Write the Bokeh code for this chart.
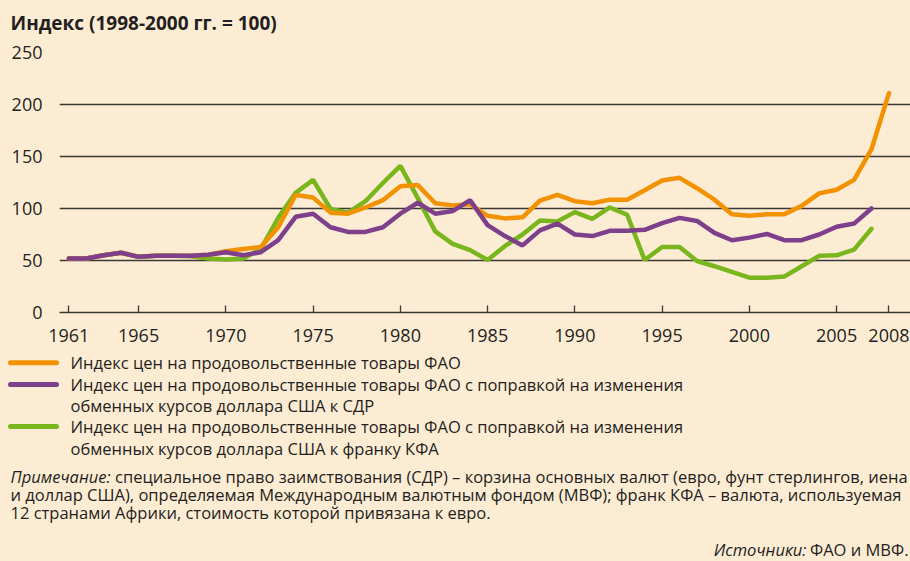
from bokeh.plotting import figure
from bokeh.models import Range1d, FixedTicker
from bokeh.embed import file_html
from bokeh.resources import INLINE
from bokeh.core.properties import value

# ---------------- data ----------------
years = list(range(1961, 2009))
fao_index = [52, 52, 55, 57.5, 53.5, 54.5, 54.5, 54.5, 55.5, 59,
             61, 63, 82, 113, 110.5, 96, 95, 101, 108, 121.5,
             122.5, 105, 103, 104, 93, 90.5, 91.5, 107.5, 113, 107,
             105, 108.5, 108.5, 117.5, 127, 129.5, 119.5, 108.5, 94.5, 93,
             94.5, 94.5, 102.5, 114.5, 118, 127.5, 157, 211]
sdr_index = [52, 52, 55, 57.5, 53.5, 54.5, 54.5, 54.5, 55.5, 58,
             55, 58, 69.5, 92, 95, 82, 77.5, 77.5, 82, 95,
             105.5, 95, 97.5, 108, 84, 73.5, 64.5, 79, 85.5, 75,
             73.5, 78.5, 78.5, 79.5, 86, 91, 88, 76.5, 69.5, 72,
             75.5, 69.5, 69.5, 75, 82.5, 85.5, 100]
cfa_index = [52, 52, 55, 57.5, 53.5, 54.5, 54.5, 54, 52, 51,
             52, 61, 91, 115, 127.5, 99.5, 96, 107, 124.5, 141,
             110, 78, 66, 60, 50.5, 64, 75, 88.5, 87.5, 96.5,
             90, 101, 94, 50.5, 63, 63, 49.5, 44.5, 39, 33.5,
             33.5, 34.5, 44.5, 54.5, 55, 60.5, 80.5]
x_ticks = [1961, 1965, 1970, 1975, 1980, 1985, 1990, 1995, 2000, 2005, 2008]
y_ticks = [0, 50, 100, 150, 200, 250]
grid_ticks = [50, 100, 150, 200, 250]

title_text = "Индекс (1998-2000 гг. = 100)"
legend_lines = [
    "Индекс цен на продовольственные товары ФАО",
    "Индекс цен на продовольственные товары ФАО с поправкой на изменения",
    "обменных курсов доллара США к СДР",
    "Индекс цен на продовольственные товары ФАО с поправкой на изменения",
    "обменных курсов доллара США к франку КФА",
]
note_label = "Примечание:"
note_lines = [
    "специальное право заимствования (СДР) – корзина основных валют (евро, фунт стерлингов, иена",
    "и доллар США), определяемая Международным валютным фондом (МВФ); франк КФА – валюта, используемая",
    "12 странами Африки, стоимость которой привязана к евро.",
]
source_label = "Источники:"
source_text = "ФАО и МВФ."

# ---------------- style ----------------
BG = "#FDECD4"
TXT = "#231F20"
GRID = "#3B3735"
ORANGE = "#F39200"
PURPLE = "#7E3F8B"
GREEN = "#79B51C"
FONT = "Open Sans"
W = 910


def text_panel(height, top):
    """A figure whose ranges are page pixels (used for free text)."""
    f = figure(width=W, height=height, x_range=Range1d(0, W),
               y_range=Range1d(top + height, top),
               output_backend="svg", toolbar_location=None,
               x_axis_type=None, y_axis_type=None,
               min_border_left=0, min_border_right=0,
               min_border_top=0, min_border_bottom=0,
               background_fill_color=BG, border_fill_color=BG,
               outline_line_color=None)
    f.title.visible = False
    f.xgrid.visible = False
    f.ygrid.visible = False
    return f


# ---------------- title panel ----------------
t = text_panel(38, 0)
t.text(x=[10], y=[22.5], text=[title_text], text_font=value(FONT),
       text_font_size="19px", text_font_style="bold", text_color=TXT,
       text_baseline="middle")

# ---------------- chart ----------------
p = figure(width=W, height=310,
           x_range=Range1d(1960.467, 2009.235), y_range=Range1d(0, 250),
           output_backend="svg", toolbar_location=None,
           min_border_left=59, min_border_right=0,
           min_border_top=14, min_border_bottom=36,
           background_fill_color=BG, border_fill_color=BG,
           outline_line_color=None)
p.title.visible = False

p.xgrid.visible = False
p.ygrid.ticker = FixedTicker(ticks=grid_ticks)
p.ygrid.grid_line_color = GRID
p.ygrid.grid_line_width = 1.3

p.yaxis.ticker = FixedTicker(ticks=y_ticks)
p.yaxis.axis_line_color = None
p.yaxis.major_tick_line_color = None
p.yaxis.minor_tick_line_color = None
p.yaxis.major_tick_in = 0
p.yaxis.major_tick_out = 0
p.yaxis.major_label_standoff = 17
p.yaxis.major_label_text_font = FONT
p.yaxis.major_label_text_font_size = "18px"
p.yaxis.major_label_text_color = TXT

p.xaxis.ticker = FixedTicker(ticks=x_ticks)
p.xaxis.axis_line_color = GRID
p.xaxis.axis_line_width = 1.3
p.xaxis.major_tick_line_color = GRID
p.xaxis.major_tick_line_width = 1.3
p.xaxis.minor_tick_line_color = None
p.xaxis.major_tick_in = 7
p.xaxis.major_tick_out = 0
p.xaxis.major_label_standoff = 16
p.xaxis.major_label_text_font = FONT
p.xaxis.major_label_text_font_size = "18px"
p.xaxis.major_label_text_color = TXT

n2 = len(sdr_index)
p.line(years[:n2], cfa_index, line_color=GREEN, line_width=4.5, line_cap="round")
p.line(years, fao_index, line_color=ORANGE, line_width=4.5, line_cap="round")
p.line(years[:n2], sdr_index, line_color=PURPLE, line_width=4.5, line_cap="round")

# ---------------- legend & notes panel ----------------
q = text_panel(561 - 348, 348)

legend_y = [362.3, 384, 405, 426, 447.7]
swatch_y = [legend_y[0], legend_y[1], legend_y[3]]
q.segment(x0=[10, 10, 10], y0=swatch_y, x1=[56, 56, 56], y1=swatch_y,
          line_color=[ORANGE, PURPLE, GREEN], line_width=5, line_cap="round")
q.text(x=[70] * 5, y=legend_y, text=legend_lines, text_font=value(FONT),
       text_font_size="16.5px", text_baseline="middle", text_color=TXT)

note_y = [476, 494, 512]
q.text(x=[10], y=[note_y[0]], text=[note_label], text_font=value(FONT),
       text_font_size="16.5px", text_font_style="italic", text_baseline="middle",
       text_color=TXT)
q.text(x=[114.5, 10, 10], y=note_y, text=note_lines, text_font=value(FONT),
       text_font_size="16.5px", text_baseline="middle", text_color=TXT)

q.text(x=[908], y=[549], text=[source_text], text_font=value(FONT),
       text_font_size="16.5px", text_baseline="middle", text_align="right",
       text_color=TXT)
q.text(x=[806], y=[549], text=[source_label], text_font=value(FONT),
       text_font_size="16.5px", text_font_style="italic", text_baseline="middle",
       text_align="right", text_color=TXT)

html = file_html([t, p, q], INLINE, "chart")
html = html.replace("<body>", '<body style="background-color:%s">' % BG)
open("out.html", "w").write(html)
